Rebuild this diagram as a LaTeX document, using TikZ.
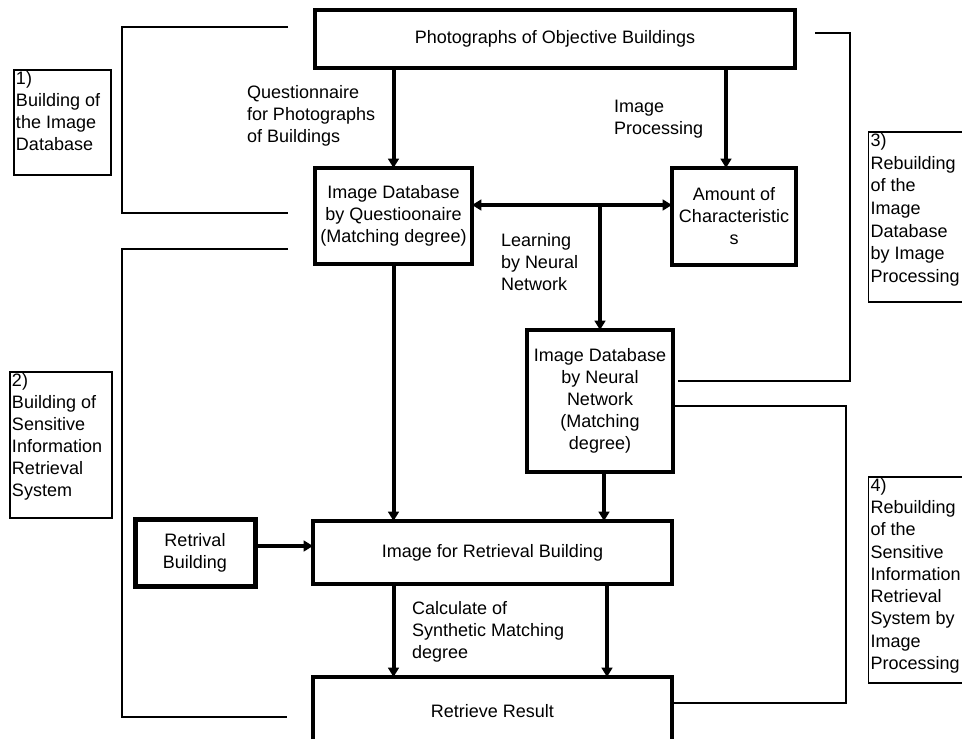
\documentclass[tikz,border=0pt]{standalone}
\usepackage{fontspec}
\setmainfont{Liberation Sans}
\usetikzlibrary{arrows.meta,calc}
\begin{document}
\begin{tikzpicture}[x=0.75pt,y=-0.75pt,
  every node/.style={font=\fontsize{13.5pt}{16.5pt}\selectfont, inner sep=0pt, outer sep=0pt},
  mainbox/.style={draw, line width=3pt, align=center},
  thickbox/.style={draw, line width=3.75pt, align=center},
  labbox/.style={draw, line width=1pt},
  labtext/.style={align=left, anchor=north west},
  edgetext/.style={align=left, anchor=west},
  arr/.style={line width=3pt, -{Triangle[length=7pt,width=8pt]}},
  darr/.style={line width=3pt, {Triangle[length=7pt,width=8pt]}-{Triangle[length=7pt,width=8pt]}},
  bracket/.style={line width=1.5pt}
]
\useasboundingbox (0,0) rectangle (962,738);
\clip (0,0) rectangle (962,738);

% main boxes
\node[mainbox, minimum width=360pt, minimum height=43.5pt] (top) at (555,39) {Photographs of Objective Buildings};
\node[mainbox, minimum width=117.75pt, minimum height=72pt] (qdb) at (393.5,216) {Image Database\\by Questioonaire\\(Matching degree)};
\node[mainbox, minimum width=93pt, minimum height=72.75pt] (amt) at (734,216.5) {Amount of\\Characteristic\\s};
\node[mainbox, minimum width=109.5pt, minimum height=106.5pt] (nn) at (600,401) {Image Database\\by Neural\\Network\\(Matching\\degree)};
\node[mainbox, minimum width=269.25pt, minimum height=47.25pt] (ret) at (492.5,552.5) {Image for Retrieval Building};
\node[thickbox, minimum width=90pt, minimum height=50.25pt] (rb) at (195,552.5) {Retrival\\Building};
\node[mainbox, minimum width=269.25pt, minimum height=51pt] (res) at (492.5,711) {Retrieve Result};

% edge texts
\node[edgetext] (tq) at (247,116) {Questionnaire\\for Photographs\\of Buildings};
\node[edgetext] (tip) at (614,119) {Image\\Processing};
\node[edgetext] (tnn) at (501,262) {Learning\\by Neural\\Network};
\node[edgetext] (tcs) at (412,632) {Calculate of\\Synthetic Matching\\degree};

% arrows
\coordinate (c1) at (726,120);
\coordinate (h) at (600,205);
\coordinate (c2) at (604,500);
\coordinate (c3) at (607,630);
\coordinate (c4) at (200,546);
\draw[arr] (qdb.north |- top.south) -- (qdb.north);
\draw[arr] (c1 |- top.south) -- (c1 |- amt.north);
\draw[darr] (h -| qdb.east) -- (h -| amt.west);
\draw[arr] (h) -- (h |- nn.north);
\draw[arr] (qdb.south) -- (qdb.south |- ret.north);
\draw[arr] (c2 |- nn.south) -- (c2 |- ret.north);
\draw[arr] (c4 -| rb.east) -- (c4 -| ret.west);
\draw[arr] (qdb.south |- ret.south) -- (qdb.south |- res.north);
\draw[arr] (c3 |- ret.south) -- (c3 |- res.north);

% brackets
\coordinate (b1a) at (288,27);
\coordinate (b1v) at (122,120);
\coordinate (b1b) at (288,213);
\draw[bracket] (b1a) -| (b1v) |- (b1b);
\coordinate (b2a) at (288,249);
\coordinate (b2v) at (122,480);
\coordinate (b2b) at (287,717);
\draw[bracket] (b2a) -| (b2v) |- (b2b);
\coordinate (b3a) at (815,33);
\coordinate (b3v) at (850,200);
\coordinate (b3b) at (678,381);
\draw[bracket] (b3a) -| (b3v) |- (b3b);
\coordinate (b4a) at (673,406);
\coordinate (b4v) at (846,550);
\coordinate (b4b) at (673,703);
\draw[bracket] (b4a) -| (b4v) |- (b4b);

% label boxes
\node[labbox, minimum width=72.75pt, minimum height=78.75pt] (l1) at (62.5,122.5) {};
\node[labtext] (l1t) at ([shift={(1.5pt,-1pt)}]l1.north west) {1)\\Building of\\the Image\\Database};
\node[labbox, minimum width=76.5pt, minimum height=109.5pt] (l2) at (61,445) {};
\node[labtext] (l2t) at ([shift={(1.5pt,-1pt)}]l2.north west) {2)\\Building of\\Sensitive\\Information\\Retrieval\\System};
\node[labbox, minimum width=70.5pt, minimum height=127.5pt] (l3) at (915.5,217) {};
\node[labtext, font=\fontsize{13.5pt}{17pt}\selectfont] (l3t) at ([shift={(1.5pt,-1pt)}]l3.north west) {3)\\Rebuilding\\of the\\Image\\Database\\by Image\\Processing};
\node[labbox, minimum width=70.5pt, minimum height=154.5pt] (l4) at (915.5,580) {};
\node[labtext, font=\fontsize{13.5pt}{16.7pt}\selectfont] (l4t) at ([shift={(1.5pt,-1pt)}]l4.north west) {4)\\Rebuilding\\of the\\Sensitive\\Information\\Retrieval\\System by\\Image\\Processing};
\end{tikzpicture}
\end{document}
